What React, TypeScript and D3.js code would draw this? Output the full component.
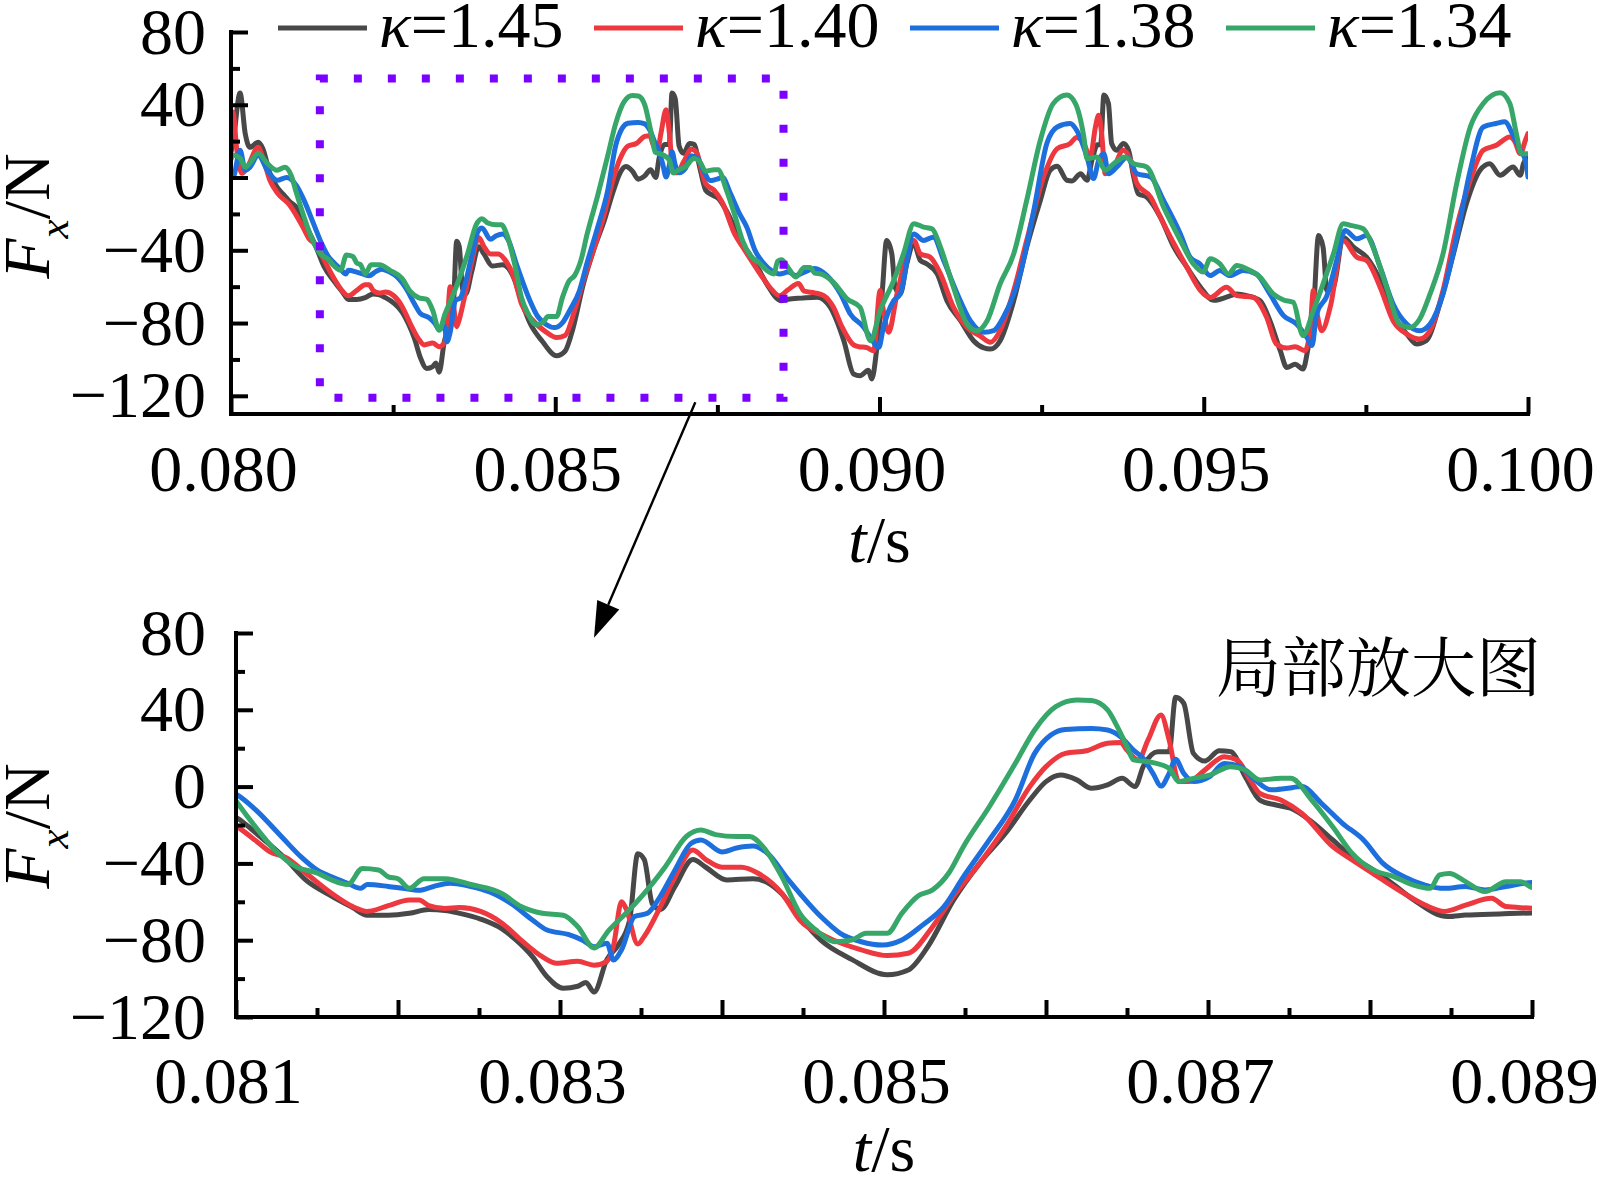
import * as d3 from "d3";
import { useEffect, useRef } from "react";

type Pt = [number, number];

// t in s, Fx in N
const legendLabels = ["1.45", "1.40", "1.38", "1.34"];
const seriesColors = ["#484848", "#ec383e", "#1c6fdc", "#37a669"];

const grey145: Pt[] = [
  [0.08, 14], [0.08003, 19], [0.08014, 46.4], [0.08022, 24], [0.08029, 16.6], [0.08042, 19.4], [0.08049, 16], [0.0806, 2.3],
  [0.08071, -5.3], [0.0808, -9], [0.0809, -13], [0.08101, -16.5], [0.08112, -24], [0.08131, -38], [0.08143, -48.6],
  [0.08159, -57], [0.08172, -63], [0.08181, -67], [0.08194, -67], [0.08207, -66], [0.08219, -64], [0.08229, -64.5],
  [0.08238, -66], [0.08251, -69], [0.08264, -74], [0.08273, -80], [0.08283, -88.6], [0.08292, -99], [0.08302, -105],
  [0.08311, -104], [0.08316, -102], [0.08321, -107], [0.08329, -90], [0.08336, -82.5], [0.08343, -69.5], [0.08348, -35],
  [0.08352, -38], [0.08357, -61], [0.08362, -64], [0.08371, -52], [0.08382, -38], [0.0839, -42], [0.08403, -48.6],
  [0.08419, -48], [0.08428, -50], [0.08437, -56], [0.08448, -68], [0.08461, -80], [0.0848, -90], [0.08502, -98],
  [0.08515, -95.5], [0.08527, -83.4], [0.08543, -59], [0.08559, -40], [0.08575, -24.3], [0.0859, -7], [0.086, 2.6],
  [0.08609, 6], [0.08619, 3.5], [0.08628, -0.9], [0.08638, 0.9], [0.08647, 4.3], [0.08655, 0], [0.0866, 10.4],
  [0.08669, 18.2], [0.08676, 18.2], [0.0868, 46.5], [0.08685, 43.4], [0.08691, 17.3], [0.08698, 13.3], [0.08707, 18.7],
  [0.08714, 18.2], [0.08723, 5.2], [0.08732, -7], [0.08742, -9.6], [0.08751, -11.3], [0.08764, -18.3], [0.08777, -27.8],
  [0.08789, -36.5], [0.08802, -43.4], [0.08815, -51.3], [0.08827, -59], [0.08848, -67.7], [0.08859, -66.9], [0.0888, -66.3],
  [0.08904, -65.8], [0.08924, -71.3], [0.08945, -89.7], [0.0896, -108], [0.0897, -109], [0.08983, -106], [0.08988, -110.8],
  [0.08996, -93.4], [0.09004, -64], [0.09011, -34.6], [0.09019, -42], [0.09024, -60.3], [0.09032, -64], [0.09042, -47.5],
  [0.09053, -36.4], [0.09063, -45.6], [0.09073, -47.5], [0.09089, -53], [0.09104, -67.7], [0.09125, -78.7], [0.09145, -89.7],
  [0.09161, -93.7], [0.09171, -94.3], [0.09186, -89.7], [0.09207, -67.7], [0.09227, -38.3], [0.09248, -12.6], [0.09263, 4],
  [0.09274, 6.2], [0.09289, -1.5], [0.09297, -1.9], [0.0931, 2.1], [0.0932, -1.5], [0.09328, 10], [0.09336, 18],
  [0.09341, 18], [0.09346, 45.3], [0.09353, 40.7], [0.09358, 18.7], [0.09366, 15], [0.09376, 18.7], [0.09384, 15],
  [0.09392, 0.3], [0.09399, -8.9], [0.09412, -10.7], [0.09433, -21.7], [0.09454, -38.3], [0.09474, -49.3], [0.09495, -60.3],
  [0.09515, -67.5], [0.09535, -65.8], [0.09551, -64], [0.09566, -64.9], [0.09587, -67.7], [0.09602, -78.7], [0.09618, -95.2],
  [0.09628, -104.4], [0.09641, -102.6], [0.09653, -105.3], [0.09661, -93.4], [0.09669, -75], [0.09677, -31.9], [0.09684, -38.3],
  [0.0969, -62.1], [0.097, -60.3], [0.09715, -32.8], [0.09731, -38.3], [0.09751, -43.8], [0.09772, -56.6], [0.09792, -75],
  [0.09813, -86], [0.09828, -91.5], [0.09843, -89.7], [0.09864, -69.5], [0.09885, -42], [0.09905, -14.4], [0.09926, 4],
  [0.09941, 7.6], [0.09957, 1.2], [0.09977, 5.8], [0.09988, 1.2], [0.09993, 7.6], [0.1, 12],
];

const red140: Pt[] = [
  [0.08, 28], [0.08003, 36], [0.08009, 15], [0.08017, 2.3], [0.08025, 5.6], [0.08042, 16.6], [0.08049, 11], [0.0806, -1.5],
  [0.08072, -8.7], [0.0809, -15], [0.08101, -21], [0.08112, -28], [0.08121, -34], [0.08131, -37], [0.08143, -45],
  [0.08159, -55.6], [0.08172, -62.5], [0.08181, -65], [0.08194, -62], [0.08207, -59], [0.08213, -59], [0.08219, -62],
  [0.08229, -63.5], [0.08238, -63], [0.08251, -65], [0.08264, -71], [0.08276, -80], [0.08289, -88.6], [0.08298, -92],
  [0.08311, -91], [0.08321, -93], [0.08329, -91], [0.08333, -83], [0.08338, -60], [0.08341, -64], [0.08348, -82],
  [0.08352, -78], [0.08362, -62.5], [0.08371, -47], [0.08382, -33], [0.0839, -38], [0.084, -42], [0.08412, -42],
  [0.08422, -45], [0.08437, -55.6], [0.08448, -69.5], [0.08464, -78], [0.08486, -85], [0.08502, -88], [0.08515, -86.8],
  [0.0853, -73], [0.08543, -57], [0.08559, -40], [0.08575, -21], [0.0859, 0], [0.086, 10.4], [0.08612, 17.3],
  [0.08625, 18.7], [0.08638, 22.6], [0.08646, 23], [0.0865, 19], [0.08657, 13.9], [0.08663, 24.3], [0.08671, 37.3],
  [0.08676, 24.3], [0.08682, 2.6], [0.08688, 2.6], [0.08698, 8.6], [0.0871, 15.6], [0.08718, 13.9], [0.08726, 3.5],
  [0.08732, -3.5], [0.08745, -7], [0.08758, -14], [0.08777, -31.3], [0.08789, -38.2], [0.08805, -47], [0.08821, -55.6],
  [0.08834, -61.7], [0.08846, -65], [0.08859, -61.7], [0.08875, -58.2], [0.08884, -62.5], [0.089, -63.4], [0.08914, -64.9],
  [0.08929, -71.3], [0.08942, -82], [0.0896, -92], [0.08968, -93], [0.0898, -93.4], [0.08991, -95.2], [0.09001, -62.1],
  [0.09006, -73.2], [0.09014, -85.1], [0.09027, -64], [0.09053, -34.6], [0.09063, -42], [0.09078, -43.8], [0.09094, -53],
  [0.09114, -71.3], [0.09135, -82.4], [0.09155, -87], [0.09171, -90.6], [0.09186, -84.2], [0.09207, -62.1], [0.09227, -34.6],
  [0.09253, 0.3], [0.09274, 15.9], [0.09294, 18.7], [0.09304, 22], [0.09315, 18.7], [0.09325, 11.3], [0.09333, 27.8],
  [0.09338, 34.3], [0.09343, 22.4], [0.09348, 2.1], [0.09361, 5.8], [0.09376, 15], [0.09387, 9.5], [0.09397, -3.4],
  [0.09418, -10.7], [0.09433, -21.7], [0.09454, -36.4], [0.09474, -49.3], [0.09495, -62.1], [0.0951, -66], [0.09535, -60.3],
  [0.09551, -64.9], [0.09576, -65.8], [0.09597, -76.8], [0.09612, -91.5], [0.09628, -93.7], [0.09641, -93], [0.09656, -95.2],
  [0.09664, -84.2], [0.09669, -62.1], [0.09674, -73.2], [0.09682, -84.2], [0.09695, -71.3], [0.09715, -34.6], [0.09736, -43.8],
  [0.09751, -45.6], [0.09772, -60.3], [0.09792, -78.7], [0.09813, -86], [0.09833, -88.8], [0.09849, -84.2], [0.09869, -62.1],
  [0.0989, -27.3], [0.09911, -1.5], [0.09931, 15], [0.09951, 17.7], [0.09972, 22.3], [0.0998, 19.6], [0.09988, 13.1],
  [0.09996, 20.5], [0.1, 24.2],
];

const blue138: Pt[] = [
  [0.08, 0], [0.08003, 0], [0.08014, 15], [0.08022, 4], [0.08029, 5.6], [0.08042, 12.2], [0.08056, 4], [0.08071, -1.5],
  [0.08086, 0], [0.08101, -4.5], [0.08112, -12], [0.08128, -26], [0.0814, -36.5], [0.0815, -43.4], [0.08159, -47],
  [0.08169, -50.4], [0.08177, -53], [0.08181, -51], [0.08194, -52], [0.08203, -53], [0.08213, -54], [0.08222, -52],
  [0.08232, -50.4], [0.08245, -52], [0.08257, -55], [0.0827, -61], [0.08283, -69.5], [0.08292, -74.7], [0.08305, -77],
  [0.08314, -80], [0.08321, -83.4], [0.08329, -81.6], [0.08333, -90.3], [0.08338, -85], [0.08346, -67.7], [0.08354, -66],
  [0.08362, -57], [0.08371, -43.4], [0.08381, -29.5], [0.08387, -27.8], [0.084, -34], [0.08409, -32], [0.08419, -31],
  [0.08428, -34.7], [0.08441, -48.6], [0.08448, -55.6], [0.08461, -67.7], [0.08473, -76.4], [0.08486, -80.8], [0.08499, -82.5],
  [0.08511, -79.9], [0.08524, -72], [0.08537, -62.5], [0.08549, -47], [0.08565, -27.8], [0.08581, -7], [0.08593, 17.3],
  [0.08603, 26.9], [0.08612, 29.8], [0.08628, 30.3], [0.08638, 29.5], [0.08646, 26], [0.08654, 19], [0.0866, 14.7],
  [0.08666, 6.9], [0.08671, 0.3], [0.08676, 6.9], [0.0868, 14.2], [0.08685, 6.9], [0.08691, 2.6], [0.08701, 5.2],
  [0.0871, 12], [0.0872, 10.4], [0.08729, 3.5], [0.08739, -1.7], [0.08748, -1], [0.08758, 0], [0.0877, -8.7],
  [0.08783, -19.1], [0.08796, -27.8], [0.08808, -40], [0.08821, -47], [0.08834, -51.3], [0.08846, -53], [0.08859, -52],
  [0.08871, -53.8], [0.08884, -52], [0.089, -50], [0.08919, -53.9], [0.0894, -64], [0.08955, -75], [0.08976, -82.4],
  [0.08986, -87.9], [0.08999, -93.4], [0.09006, -82.4], [0.09022, -67.7], [0.09032, -64], [0.09053, -31], [0.09068, -34.6],
  [0.09083, -32.8], [0.09099, -45.6], [0.0912, -64], [0.0914, -78.7], [0.09161, -85.1], [0.09176, -84.2], [0.09191, -76.8],
  [0.09217, -53], [0.09238, -18], [0.09258, 18.7], [0.09274, 27.8], [0.09294, 29.7], [0.09304, 26], [0.0932, 11.3],
  [0.0933, -0.6], [0.09338, 9.5], [0.09346, 13.1], [0.09353, 2.1], [0.09366, 5.8], [0.09382, 11.3], [0.09397, 2.1],
  [0.09418, 0.3], [0.09438, -12.6], [0.09464, -31], [0.09479, -43.8], [0.09494, -47.5], [0.0951, -53.9], [0.09525, -51.1],
  [0.0954, -53.9], [0.09561, -51.1], [0.09581, -53], [0.09602, -64], [0.09623, -75.9], [0.09643, -80.5], [0.09659, -87.9],
  [0.09667, -92.4], [0.09674, -75], [0.0969, -64.9], [0.09705, -45.6], [0.09718, -29.1], [0.09736, -33.7], [0.09751, -31.9],
  [0.09772, -49.3], [0.09792, -69.5], [0.09813, -80.5], [0.09833, -84.2], [0.09849, -80.5], [0.09869, -64], [0.0989, -32.8],
  [0.09911, 4], [0.09931, 27.8], [0.09951, 29.7], [0.09964, 30.6], [0.09977, 23.3], [0.09988, 15], [0.09996, 9.5], [0.1, 0.3],
];

const green134: Pt[] = [
  [0.08, 10], [0.08003, 12.2], [0.08014, 10.6], [0.08022, 5.6], [0.08029, 7.8], [0.08042, 13.3], [0.08056, 7.8], [0.08071, 4],
  [0.08083, 5.6], [0.08093, 1], [0.08101, -8.7], [0.08112, -21], [0.08124, -33], [0.08137, -41.7], [0.0815, -45],
  [0.08159, -48.6], [0.08169, -51], [0.08178, -42.6], [0.08188, -43.4], [0.08194, -47], [0.082, -48], [0.08207, -53],
  [0.08216, -48], [0.08229, -48], [0.08245, -51], [0.08264, -55.6], [0.08276, -62.5], [0.08289, -66], [0.08302, -67],
  [0.08311, -73], [0.08321, -84], [0.0833, -75], [0.08343, -64], [0.08352, -55.6], [0.08365, -41.7], [0.08378, -26],
  [0.08387, -22.6], [0.08396, -25], [0.08409, -26], [0.08417, -26], [0.08425, -31], [0.08437, -47], [0.08448, -66],
  [0.08458, -74.7], [0.0847, -80.8], [0.0848, -79.9], [0.08489, -76.4], [0.08502, -76.4], [0.08511, -66], [0.08521, -57],
  [0.0853, -53.8], [0.0854, -45], [0.08549, -31.3], [0.08565, -10.5], [0.08581, 12], [0.08593, 29.5], [0.08606, 41.6],
  [0.08619, 45.1], [0.08628, 44.8], [0.08638, 39.9], [0.08644, 31.2], [0.0865, 20.8], [0.08654, 13.9], [0.08666, 12.5],
  [0.08676, 9.5], [0.08682, 2.6], [0.08691, 4.3], [0.08701, 6], [0.08714, 10.4], [0.08723, 8.6], [0.08732, 3.5],
  [0.08745, 4.3], [0.08751, 4.3], [0.08764, -7], [0.08777, -20.9], [0.08789, -34.8], [0.08802, -43.4], [0.08815, -47],
  [0.08827, -51.3], [0.08837, -53], [0.08843, -46], [0.08849, -45.2], [0.08859, -49.5], [0.08871, -54.7], [0.08884, -49.5],
  [0.08893, -49.5], [0.089, -52.5], [0.08909, -53], [0.08929, -57.6], [0.0895, -66.7], [0.0897, -71.3], [0.08986, -89.7],
  [0.09001, -73.2], [0.09022, -56.6], [0.09037, -41.9], [0.09053, -25.4], [0.09068, -27.3], [0.09081, -28.2], [0.09094, -38.3],
  [0.09114, -60.3], [0.09135, -80.5], [0.0915, -84.2], [0.09166, -78.7], [0.09186, -58.5], [0.09207, -41.9], [0.09227, -12.6],
  [0.09248, 20.5], [0.09268, 40.7], [0.09289, 45.3], [0.09302, 40.7], [0.09315, 22.4], [0.0932, 10.4], [0.09335, 11.3],
  [0.09348, 4], [0.09361, 7.6], [0.09379, 11.3], [0.09392, 7.6], [0.09412, 5.8], [0.09438, -16.2], [0.09464, -34.6],
  [0.09484, -47.5], [0.09499, -52], [0.0951, -44.7], [0.09525, -47.5], [0.09538, -53], [0.09551, -48.4], [0.09566, -50.2],
  [0.09587, -54.8], [0.09607, -64], [0.09623, -67.3], [0.09638, -68.6], [0.09653, -86.9], [0.09669, -73.2], [0.09684, -58.5],
  [0.097, -41.9], [0.09715, -25.4], [0.09726, -26.3], [0.09746, -28.2], [0.09761, -38.3], [0.09782, -60.3], [0.09802, -80.5],
  [0.09818, -82.4], [0.09833, -77.8], [0.09849, -64], [0.09869, -41.9], [0.0989, -3.4], [0.09911, 27.8], [0.09931, 40.7],
  [0.09957, 46.6], [0.09972, 40.7], [0.09982, 24.2], [0.0999, 13.1], [0.1, 13.1],
];

const allSeries = [grey145, red140, blue138, green134];

const yMajor = [80, 40, 0, -40, -80, -120];
const yMinor = [60, 20, -20, -60, -100];
const topXMajor = [0.08, 0.085, 0.09, 0.095, 0.1];
const topXMinor = [0.0825, 0.0875, 0.0925, 0.0975];
const botXMajor = [0.081, 0.082, 0.083, 0.084, 0.085, 0.086, 0.087, 0.088, 0.089];
const botXLabeled = [0.081, 0.083, 0.085, 0.087, 0.089];
const botXMinor = [0.0815, 0.0825, 0.0835, 0.0845, 0.0855, 0.0865, 0.0875, 0.0885];

// dotted window on the top panel and the arrow to the zoomed panel
const zoomBox = { t0: 0.08137, t1: 0.08852, fTop: 54.5, fBottom: -121 };
const arrowFrom = { t: 0.08716, f: -123.5 };
const arrowTo = { t: 0.08321, f: 77.5 };

const W = 1602;
const H = 1177;
const SERIF = "'Liberation Serif', 'Times New Roman', serif";
const FS = 66;

type Scale = d3.ScaleLinear<number, number>;

type Panel = {
  id: string;
  x: Scale;
  y: Scale;
  xMajor: number[];
  xLabeled: number[];
  xMinor: number[];
  xLabelPad: number;
  xTitleY: number;
  yTitleY: number;
};

const fmtY = (v: number) => String(v).replace("-", "\u2212");
const fmtX = (v: number) => v.toFixed(3);

function drawPanel(svg: d3.Selection<SVGSVGElement, unknown, null, undefined>, p: Panel) {
  const { x, y } = p;
  const [x0, x1] = x.range();
  const [yBot, yTop] = y.range();

  svg
    .append("defs")
    .append("clipPath")
    .attr("id", `clip-${p.id}`)
    .append("rect")
    .attr("x", x0)
    .attr("y", yTop - 30)
    .attr("width", x1 - x0)
    .attr("height", yBot - yTop + 30);

  const line = d3
    .line<Pt>()
    .x((d) => x(d[0]))
    .y((d) => y(d[1]))
    .curve(d3.curveMonotoneX);

  const lines = svg.append("g").attr("clip-path", `url(#clip-${p.id})`);
  allSeries.forEach((s, i) => {
    lines
      .append("path")
      .attr("d", line(s) ?? "")
      .attr("fill", "none")
      .attr("stroke", seriesColors[i])
      .attr("stroke-width", 5)
      .attr("stroke-linejoin", "round")
      .attr("stroke-linecap", "round");
  });

  const styleAxis = (g: d3.Selection<SVGGElement, unknown, null, undefined>) => {
    g.select(".domain").remove();
    g.selectAll("line").attr("stroke", "#000").attr("stroke-width", 4);
    g.selectAll("text").attr("fill", "#000").attr("font-family", SERIF).attr("font-size", FS);
  };

  // y axis, ticks inward
  svg
    .append("g")
    .attr("transform", `translate(${x0},0)`)
    .call(d3.axisLeft(y).tickValues(yMajor).tickSize(-17).tickPadding(x0 - 206).tickFormat((d) => fmtY(+d)))
    .call(styleAxis);
  svg
    .append("g")
    .attr("transform", `translate(${x0},0)`)
    .call(d3.axisLeft(y).tickValues(yMinor).tickSize(-9).tickFormat(() => ""))
    .call(styleAxis);

  // x axis, ticks inward
  svg
    .append("g")
    .attr("transform", `translate(0,${yBot})`)
    .call(
      d3
        .axisBottom(x)
        .tickValues(p.xMajor)
        .tickSize(-17)
        .tickPadding(p.xLabelPad)
        .tickFormat((d) => (p.xLabeled.some((v) => Math.abs(v - +d) < 1e-9) ? fmtX(+d) : ""))
    )
    .call(styleAxis)
    .call((g) => g.selectAll("text").attr("dx", -8));
  svg
    .append("g")
    .attr("transform", `translate(0,${yBot})`)
    .call(d3.axisBottom(x).tickValues(p.xMinor).tickSize(-9).tickFormat(() => ""))
    .call(styleAxis);

  svg
    .append("path")
    .attr("d", `M${x0},${yTop}V${yBot}H${x1}`)
    .attr("fill", "none")
    .attr("stroke", "#000")
    .attr("stroke-width", 4)
    .attr("stroke-linecap", "square");

  // axis titles
  const xt = svg
    .append("text")
    .attr("x", (x0 + x1) / 2)
    .attr("y", p.xTitleY)
    .attr("text-anchor", "middle")
    .attr("font-family", SERIF)
    .attr("font-size", FS);
  xt.append("tspan").attr("font-style", "italic").text("t");
  xt.append("tspan").text("/s");

  const yt = svg
    .append("text")
    .attr("transform", `translate(49,${p.yTitleY}) rotate(-90)`)
    .attr("text-anchor", "middle")
    .attr("font-family", SERIF)
    .attr("font-size", FS);
  yt.append("tspan").attr("font-style", "italic").text("F");
  yt.append("tspan").attr("font-style", "italic").attr("font-size", 43).attr("dy", 19).text("x");
  yt.append("tspan").attr("dy", -19).text("/N");
}

export default function App() {
  const ref = useRef<SVGSVGElement | null>(null);

  useEffect(() => {
    const el = ref.current;
    if (!el) return;
    const svg = d3.select<SVGSVGElement, unknown>(el);
    svg.selectAll("*").remove();

    const topX = d3.scaleLinear().domain([0.08, 0.1]).range([231, 1528]);
    const topY = d3.scaleLinear().domain([-130, 80]).range([414, 32]);
    const botX = d3.scaleLinear().domain([0.081, 0.089]).range([236, 1532]);
    const botY = d3.scaleLinear().domain([-120, 80]).range([1017, 633]);

    drawPanel(svg, {
      id: "top",
      x: topX,
      y: topY,
      xMajor: topXMajor,
      xLabeled: topXMajor,
      xMinor: topXMinor,
      xLabelPad: 30,
      xTitleY: 562,
      yTitleY: 216,
    });
    drawPanel(svg, {
      id: "bot",
      x: botX,
      y: botY,
      xMajor: botXMajor,
      xLabeled: botXLabeled,
      xMinor: botXMinor,
      xLabelPad: 39,
      xTitleY: 1171,
      yTitleY: 826,
    });

    // legend
    const legend = svg.append("g");
    legendLabels.forEach((lab, i) => {
      const lx = 278 + i * 316;
      legend
        .append("line")
        .attr("x1", lx)
        .attr("x2", lx + 89)
        .attr("y1", 28)
        .attr("y2", 28)
        .attr("stroke", seriesColors[i])
        .attr("stroke-width", 5);
      const t = legend
        .append("text")
        .attr("x", lx + 101)
        .attr("y", 47)
        .attr("font-family", SERIF)
        .attr("font-size", FS);
      t.append("tspan").attr("font-style", "italic").text("κ");
      t.append("tspan").text(`=${lab}`);
    });

    // dotted zoom window
    const bx0 = topX(zoomBox.t0);
    const bx1 = topX(zoomBox.t1);
    const by0 = topY(zoomBox.fTop);
    const by1 = topY(zoomBox.fBottom);
    svg
      .append("path")
      .attr("d", `M${bx0},${by0}H${bx1}V${by1}H${bx0}Z`)
      .attr("fill", "none")
      .attr("stroke", "#7a00ff")
      .attr("stroke-width", 8)
      .attr("stroke-dasharray", "8 26");

    // arrow
    const ax0 = topX(arrowFrom.t);
    const ay0 = topY(arrowFrom.f);
    const ax1 = botX(arrowTo.t);
    const ay1 = botY(arrowTo.f);
    const len = Math.hypot(ax1 - ax0, ay1 - ay0);
    const ux = (ax1 - ax0) / len;
    const uy = (ay1 - ay0) / len;
    const headLen = 36;
    const headHalf = 12;
    const bx = ax1 - ux * headLen;
    const by = ay1 - uy * headLen;
    svg
      .append("line")
      .attr("x1", ax0)
      .attr("y1", ay0)
      .attr("x2", bx)
      .attr("y2", by)
      .attr("stroke", "#000")
      .attr("stroke-width", 2.4);
    svg
      .append("path")
      .attr(
        "d",
        `M${ax1},${ay1}L${bx - uy * headHalf},${by + ux * headHalf}L${bx + uy * headHalf},${by - ux * headHalf}Z`
      )
      .attr("fill", "#000");

    svg
      .append("text")
      .attr("x", 1216)
      .attr("y", 691)
      .attr("font-family", "'Noto Serif CJK SC', 'Noto Sans CJK SC', sans-serif")
      .attr("font-size", 65)
      .text("局部放大图");
  }, []);

  return (
    <svg
      ref={ref}
      width={W}
      height={H}
      viewBox={`0 0 ${W} ${H}`}
      style={{ position: "absolute", left: 0, top: 0, background: "#fff", display: "block" }}
    />
  );
}
